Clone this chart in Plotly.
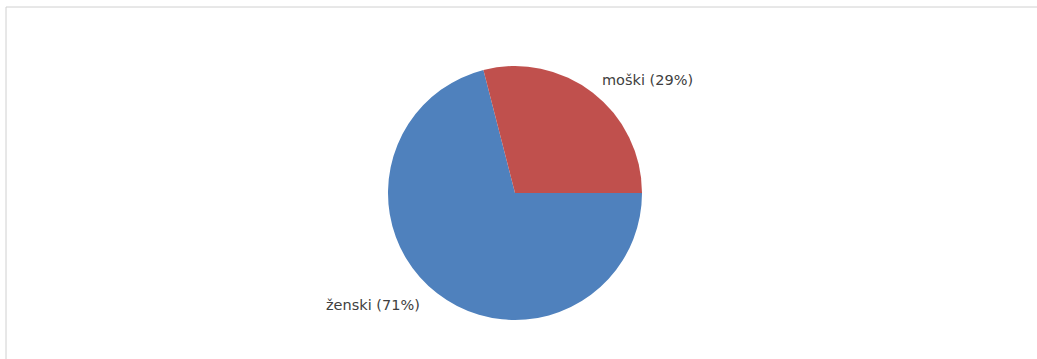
import plotly.graph_objects as go

labels = ["ženski", "moški"]
values = [71, 29]
colors = ["#4F81BD", "#C0504D"]
pct_text = ["71%", "29%"]

W, H = 1037, 359
cx, cy, r = 515, 193, 127

fig = go.Figure(go.Pie(
    labels=labels,
    values=values,
    text=pct_text,
    textinfo="none",
    marker=dict(colors=colors, line=dict(width=0)),
    sort=False,
    direction="clockwise",
    rotation=90,
    showlegend=False,
    hoverinfo="label+percent",
    domain=dict(x=[(cx - r) / W, (cx + r) / W], y=[1 - (cy + r) / H, 1 - (cy - r) / H]),
))

# label placement (layout constants, pixels)
label_pos = [(422, 305, "right"), (600, 80, "left")]
annotations = []
for (lab, pct), (px, py, anc) in zip(zip(labels, pct_text), label_pos):
    annotations.append(dict(
        text=f"{lab} ({pct})", xref="paper", yref="paper",
        x=px / W, y=1 - py / H, xanchor=anc, yanchor="middle",
        showarrow=False,
        font=dict(family="DejaVu Sans", size=14.5, color="#404040"),
    ))

fig.update_layout(
    width=W, height=H,
    margin=dict(l=0, r=0, t=0, b=0),
    paper_bgcolor="white",
    plot_bgcolor="white",
    annotations=annotations,
    shapes=[
        dict(type="line", xref="paper", yref="paper", x0=6 / W, x1=1, y0=1 - 7 / H, y1=1 - 7 / H,
             line=dict(color="#D0D0D0", width=1)),
        dict(type="line", xref="paper", yref="paper", x0=6 / W, x1=6 / W, y0=0, y1=1 - 7 / H,
             line=dict(color="#D0D0D0", width=1)),
    ],
)

fig.write_html("out.html", config={"displayModeBar": False},
               post_script="document.body.style.margin='0';document.body.style.overflow='hidden';")
